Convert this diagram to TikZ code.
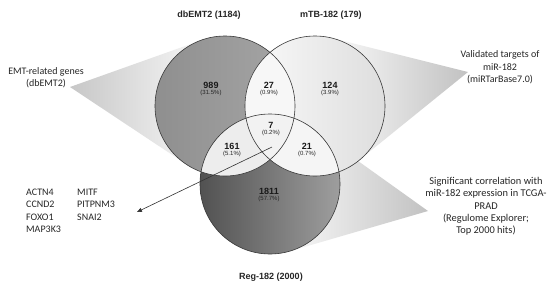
\documentclass[tikz,border=0pt]{standalone}
\usepackage{fontspec}
\setmainfont{Carlito}
\newfontfamily\arialf{Liberation Sans}
\usetikzlibrary{arrows.meta}
\begin{document}
\begin{tikzpicture}[x=1pt,y=-1pt,
  lbl/.style={font=\fontsize{10}{12.3}\selectfont, align=center, inner sep=0pt, text=black!85},
  lblbig/.style={font=\fontsize{10.4}{12.3}\selectfont, align=center, inner sep=0pt, text=black!85},
  settitle/.style={font=\arialf\bfseries\fontsize{9}{10}\selectfont, inner sep=0pt, text=black!85},
  num/.style={font=\arialf\bfseries\fontsize{9}{10}\selectfont, inner sep=0pt, text=black!90},
  pct/.style={font=\arialf\fontsize{6}{7}\selectfont, inner sep=0pt, text=black!85},
  gene/.style={font=\fontsize{10}{12}\selectfont, anchor=west, inner sep=0pt, text=black!85},
  ring/.style={draw=black!78, line width=0.6pt}
]
\useasboundingbox (0,0) rectangle (550,285);
\fill[white] (0,0) rectangle (550,285);
\coordinate (cL) at (225,106);
\coordinate (cR) at (315,106);
\coordinate (cB) at (270,184);
% cones
\shade[left color=black!22, right color=white] (70,87) -- (201.5,40.2) -- (cL) -- (186.3,164.2) -- cycle;
\shade[left color=white, right color=black!24] (468,72) -- (332,38.1) -- (cR) -- (359,160.2) -- cycle;
\shade[left color=white, right color=black!24] (428,211) -- (310.6,127.1) -- (cB) -- (288.9,251.4) -- cycle;
% circles
\shade[left color=black!44, middle color=black!29, right color=black!35] (cL) circle (70pt);
\shade[left color=black!2, right color=black!13] (cR) circle (70pt);
\shade[left color=black!68, middle color=black!58, right color=black!38] (cB) circle (70pt);
\begin{scope}
  \clip (cL) circle (70pt);
  \fill[black!3] (cR) circle (70pt);
  \fill[black!7] (cB) circle (70pt);
\end{scope}
\begin{scope}
  \clip (cR) circle (70pt);
  \fill[black!4] (cB) circle (70pt);
\end{scope}
\begin{scope}
  \clip (cL) circle (70pt);
  \clip (cR) circle (70pt);
  \fill[black!5] (cB) circle (70pt);
\end{scope}
\draw[ring] (cL) circle (70pt);
\draw[ring] (cR) circle (70pt);
\draw[ring] (cB) circle (70pt);
% numbers
\node[num] (n989) at (211,85.5) {989};
\node[pct] (p989) at (211,93) {(31.5\%)};
\node[num] (n27) at (269,85.5) {27};
\node[pct] (p27) at (269,93) {(0.9\%)};
\node[num] (n124) at (330,85.5) {124};
\node[pct] (p124) at (330,93) {(3.9\%)};
\node[num] (n7) at (271,125.5) {7};
\node[pct] (p7) at (271,133) {(0.2\%)};
\node[num] (n161) at (232,146.5) {161};
\node[pct] (p161) at (232,154) {(5.1\%)};
\node[num] (n21) at (307,146.5) {21};
\node[pct] (p21) at (307,154) {(0.7\%)};
\node[num] (n1811) at (269,191.5) {1811};
\node[pct] (p1811) at (269,199) {(57.7\%)};
% arrow
\coordinate (aS) at (272,147);
\coordinate (aE) at (137,212);
\draw[black!80, line width=0.6pt, -{Triangle[length=5pt,width=4pt]}] (aS) -- (aE);
% genes
\node[gene] (g1) at (26,192) {ACTN4};
\node[gene] (g2) at (26,204.5) {CCND2};
\node[gene] (g3) at (26,217) {FOXO1};
\node[gene] (g4) at (26,229.5) {MAP3K3};
\node[gene] (g5) at (77,192) {MITF};
\node[gene] (g6) at (77,204.5) {PITPNM3};
\node[gene] (g7) at (77,217) {SNAI2};
% titles
\node[settitle] (t1) at (209,15) {dbEMT2 (1184)};
\node[settitle] (t2) at (331,15) {mTB-182 (179)};
\node[settitle] (t3) at (271,277) {Reg-182 (2000)};
% labels
\node[lbl] (l1) at (46,78) {EMT-related genes\\(dbEMT2)};
\node[lbl] (l2) at (500,67.5) {Validated targets of\\miR-182\\(miRTarBase7.0)};
\node[lblbig] (l3) at (486,206.5) {Significant correlation with\\miR-182 expression in TCGA-\\PRAD\\(Regulome Explorer;\\Top 2000 hits)};
\end{tikzpicture}
\end{document}
